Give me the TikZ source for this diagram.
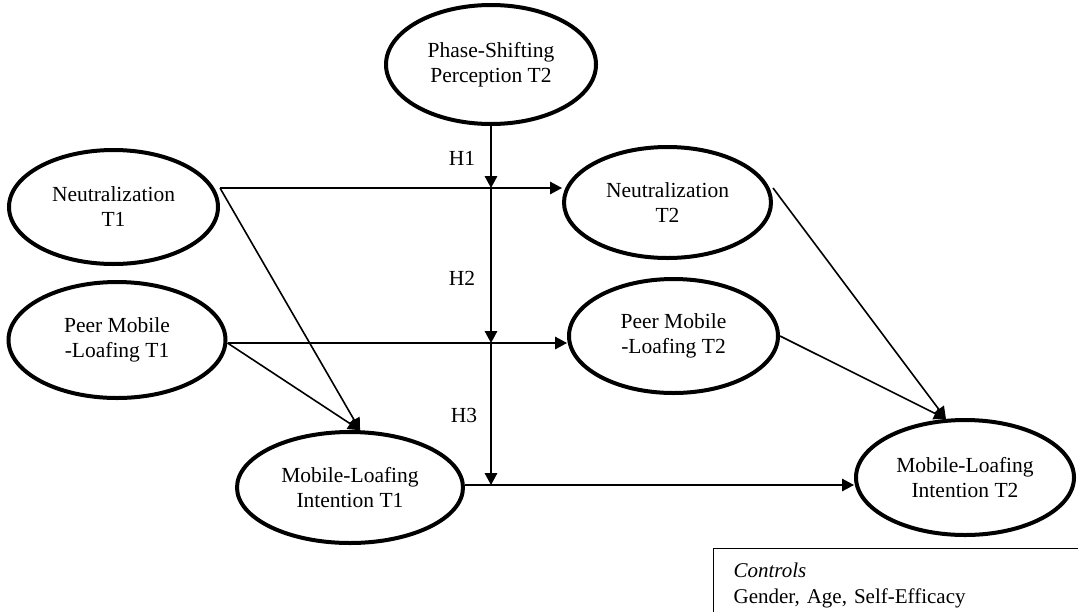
\documentclass[tikz,border=0pt]{standalone}
\usepackage{fontspec}
\setmainfont{Liberation Serif}
\usetikzlibrary{shapes.geometric,arrows.meta}
\frenchspacing
\tikzset{
  lat/.style={ellipse, draw, line width=4pt, inner sep=0pt, align=center,
    font=\fontsize{21.5}{25}\selectfont},
  conn/.style={line width=1.6pt, -{Triangle[length=12pt,width=12.5pt]}},
  hlab/.style={font=\fontsize{21.5}{25}\selectfont, inner sep=0pt},
  ctrlbox/.style={draw, line width=1.2pt, anchor=north west, inner xsep=20pt,
    inner ysep=14.5pt, text width=360pt, align=left,
    font=\fontsize{21}{26}\selectfont},
}
\begin{document}
\begin{tikzpicture}[x=1pt,y=-1pt]
\useasboundingbox (0,0) rectangle (1078,611);
% latent variables
\node[lat, minimum width=210pt, minimum height=119pt] (pst) at (491,64.5) {Phase-Shifting\\Perception T2};
\node[lat, minimum width=209pt, minimum height=114pt] (n1) at (113.5,207) {Neutralization\\T1};
\node[lat, minimum width=217pt, minimum height=116pt] (p1) at (117,340) {Peer Mobile\\-Loafing T1};
\node[lat, minimum width=207pt, minimum height=111pt] (n2) at (667.5,202.5) {Neutralization\\T2};
\node[lat, minimum width=209pt, minimum height=114pt] (p2) at (673.5,336) {Peer Mobile\\-Loafing T2};
\node[lat, minimum width=226pt, minimum height=111pt] (m1) at (350,487.5) {Mobile-Loafing\\Intention T1};
\node[lat, minimum width=218pt, minimum height=115pt] (m2) at (965,477.5) {Mobile-Loafing\\Intention T2};
% junctions on the moderator line
\coordinate (j1) at (491,188);
\coordinate (j2) at (491,343);
\coordinate (j3) at (491,485);
% horizontal paths
\draw[conn] (j1 -| n1.east) -- (j1 -| n2.west);
\draw[conn] (j2 -| p1.east) -- (j2 -| p2.west);
\draw[conn] (j3 -| m1.east) -- (j3 -| m2.west);
% moderator arrows
\draw[conn] (pst.south) -- (j1);
\draw[conn] (j1) -- (j2);
\draw[conn] (j2) -- (j3);
% hypothesis labels
\node[hlab] (h1) at (462,158) {H1};
\node[hlab] (h2) at (462,278) {H2};
\node[hlab] (h3) at (464,415) {H3};
% diagonal paths
\draw[conn] (j1 -| n1.east) -- (m1.80);
\draw[conn] (j2 -| p1.east) -- (m1.80);
\draw[conn] (j1 -| n2.east) -- (m2.108);
\draw[conn] (p2.east) -- (m2.108);
% controls box
\node[ctrlbox] (ctrl) at (713,548) {\textit{Controls}\\Gender, Age, Self-Efficacy};
\end{tikzpicture}
\end{document}
